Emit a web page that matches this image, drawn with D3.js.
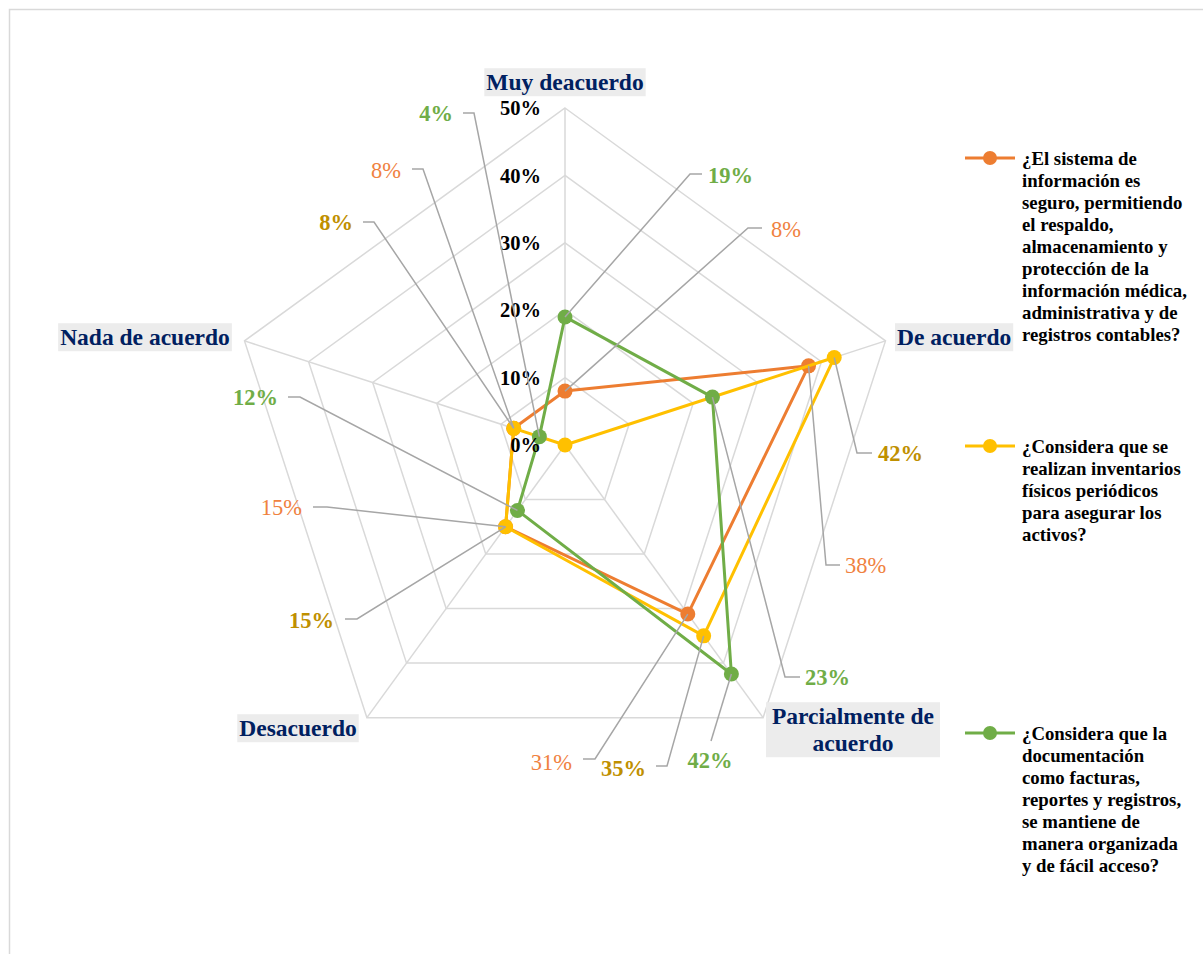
<!DOCTYPE html>
<html>
<head>
<meta charset="utf-8">
<script src="https://cdn.jsdelivr.net/npm/d3@7"></script>
<style>
  html, body { margin: 0; padding: 0; background: #fff; }
  svg { display: block; font-family: "Liberation Serif", "Times New Roman", serif; }
</style>
</head>
<body>
<svg id="chart" width="1203" height="954"></svg>
<script>
// ---------- data ----------
const categories = ["Muy deacuerdo", "De acuerdo", "Parcialmente de acuerdo", "Desacuerdo", "Nada de acuerdo"];
const seriesNames = [
  "¿El sistema de información es seguro, permitiendo el respaldo, almacenamiento y protección de la información médica, administrativa y de registros contables?",
  "¿Considera que se realizan inventarios físicos periódicos para asegurar los activos?",
  "¿Considera que la documentación como facturas, reportes y registros, se mantiene de manera organizada y de fácil acceso?"
];
const serieSistema = [0.08, 0.38, 0.31, 0.15, 0.08];
const serieInventarios = [0.00, 0.42, 0.35, 0.15, 0.08];
const serieDocumentacion = [0.19, 0.23, 0.42, 0.12, 0.04];
const tickValues = [0, 0.1, 0.2, 0.3, 0.4, 0.5];
const tickLabels = ["0%", "10%", "20%", "30%", "40%", "50%"];

// legend line-wrapping (text only)
const legendLines = [
  ["¿El sistema de", "información es", "seguro, permitiendo", "el respaldo,", "almacenamiento y", "protección de la", "información médica,", "administrativa y de", "registros contables?"],
  ["¿Considera que se", "realizan inventarios", "físicos periódicos", "para asegurar los", "activos?"],
  ["¿Considera que la", "documentación", "como facturas,", "reportes y registros,", "se mantiene de", "manera organizada", "y de fácil acceso?"]
];

// ---------- layout / style ----------
const cx = 565, cy = 445, R = 337;
const colors = ["#ED7D31", "#FFC000", "#70AD47"];
const labelColors = ["#F0823F", "#BF9000", "#70AD47"];
const labelWeights = ["normal", "bold", "bold"];
const navy = "#002060";
const gridColor = "#d9d9d9";
const leaderColor = "#a6a6a6";

// data-label placement: [textX, textY, anchor, lineStartX, lineStartY, elbowX]
const labelLayout = [
  [[771, 229, "start", 762, 228, 748], [845, 565, "start", 840, 565, 826], [572, 762, "end", 583, 759, 595], [302, 507, "end", 313, 507, 327], [401, 170, "end", 412, 169, 423]],
  [null, [878, 453, "start", 872, 453, 857], [646, 768, "end", 656, 766, 667], [334, 620, "end", 345, 619, 357], [353, 222, "end", 363, 222, 374]],
  [[708, 175, "start", 702, 174, 690], [805, 677, "start", 800, 677, 785], [710, 760, "middle", 711, 741, 711], [278, 397, "end", 288, 397, 300], [453, 113, "end", 463, 113, 474]]
];

const allSeries = [serieSistema, serieInventarios, serieDocumentacion];

const svg = d3.select("#chart");

// border
svg.append("rect").attr("x", 9.5).attr("y", 9.5).attr("width", 1250).attr("height", 1000)
  .attr("fill", "none").attr("stroke", gridColor).attr("stroke-width", 1.5);

const r = d3.scaleLinear().domain([0, 0.5]).range([0, R]);
const angle = d3.scaleLinear().domain([0, categories.length]).range([0, 2 * Math.PI]);

const g = svg.append("g").attr("transform", `translate(${cx},${cy})`);

function pt(i, v) {
  const a = angle(i);
  return [r(v) * Math.sin(a), -r(v) * Math.cos(a)];
}

// grid pentagons
const radialLine = d3.lineRadial().angle((d, i) => angle(i)).radius(d => r(d)).curve(d3.curveLinearClosed);
tickValues.filter(t => t > 0).forEach(t => {
  g.append("path").attr("d", radialLine(categories.map(() => t)))
    .attr("fill", "none").attr("stroke", gridColor).attr("stroke-width", 1.5);
});
// spokes
categories.forEach((c, i) => {
  const p = pt(i, 0.5);
  g.append("line").attr("x1", 0).attr("y1", 0).attr("x2", p[0]).attr("y2", p[1])
    .attr("stroke", gridColor).attr("stroke-width", 1.5);
});

// tick labels
tickValues.forEach((t, k) => {
  svg.append("text").attr("x", cx - 24).attr("y", cy - r(t)).attr("dy", "0.35em")
    .attr("text-anchor", "end").attr("font-weight", "bold").attr("font-size", 20.5)
    .attr("fill", "#000").text(tickLabels[k]);
});

// category labels with light boxes
const catLayout = [
  { x: 565, y: 82, anchor: "middle", lines: ["Muy deacuerdo"] },
  { x: 897, y: 337, anchor: "start", lines: ["De acuerdo"] },
  { x: 853, y: 716, anchor: "middle", lines: ["Parcialmente de", "acuerdo"] },
  { x: 298, y: 728, anchor: "middle", lines: ["Desacuerdo"] },
  { x: 145, y: 337, anchor: "middle", lines: ["Nada de acuerdo"] }
];
catLayout.forEach((cl, i) => {
  const grp = svg.append("g");
  const rect = grp.append("rect").attr("fill", "#ececec");
  const t = grp.append("text").attr("text-anchor", cl.anchor).attr("font-weight", "bold")
    .attr("font-size", 23.5).attr("fill", navy);
  cl.lines.forEach((ln, j) => {
    t.append("tspan").attr("x", cl.x).attr("y", cl.y + j * 27).attr("dy", "0.35em").text(ln);
  });
  const bb = t.node().getBBox();
  const padX = cl.lines.length > 1 ? 6 : 2;
  rect.attr("x", bb.x - padX).attr("y", bb.y - 1).attr("width", bb.width + 2 * padX).attr("height", bb.height + 2);
});

// leader lines
allSeries.forEach((vals, s) => {
  vals.forEach((v, i) => {
    const L = labelLayout[s][i];
    if (!L) return;
    const p = pt(i, v);
    const px = cx + p[0], py = cy + p[1];
    svg.append("polyline")
      .attr("points", `${L[3]},${L[4]} ${L[5]},${L[4]} ${px},${py}`)
      .attr("fill", "none").attr("stroke", leaderColor).attr("stroke-width", 1.5);
  });
});

// series
allSeries.forEach((vals, s) => {
  g.append("path").attr("d", radialLine(vals))
    .attr("fill", "none").attr("stroke", colors[s]).attr("stroke-width", 3).attr("stroke-linejoin", "round");
  g.selectAll(null).data(vals).enter().append("circle")
    .attr("cx", (d, i) => pt(i, d)[0]).attr("cy", (d, i) => pt(i, d)[1])
    .attr("r", 7.5).attr("fill", colors[s]);
});

// data labels
allSeries.forEach((vals, s) => {
  vals.forEach((v, i) => {
    const L = labelLayout[s][i];
    if (!L) return;
    svg.append("text").attr("x", L[0]).attr("y", L[1]).attr("dy", "0.35em")
      .attr("text-anchor", L[2]).attr("font-size", 22.5).attr("font-weight", labelWeights[s])
      .attr("fill", labelColors[s]).text(d3.format(".0%")(v));
  });
});

// legend
const legendY = [158, 446, 733];
seriesNames.forEach((name, s) => {
  const y = legendY[s];
  svg.append("line").attr("x1", 965).attr("x2", 1015).attr("y1", y).attr("y2", y)
    .attr("stroke", colors[s]).attr("stroke-width", 3);
  svg.append("circle").attr("cx", 990).attr("cy", y).attr("r", 7).attr("fill", colors[s]);
  const t = svg.append("text").attr("font-weight", "bold").attr("font-size", 18.8).attr("fill", "#000");
  legendLines[s].forEach((ln, j) => {
    t.append("tspan").attr("x", 1022).attr("y", y + j * 22).attr("dy", "0.35em").text(ln);
  });
});
</script>
</body>
</html>
